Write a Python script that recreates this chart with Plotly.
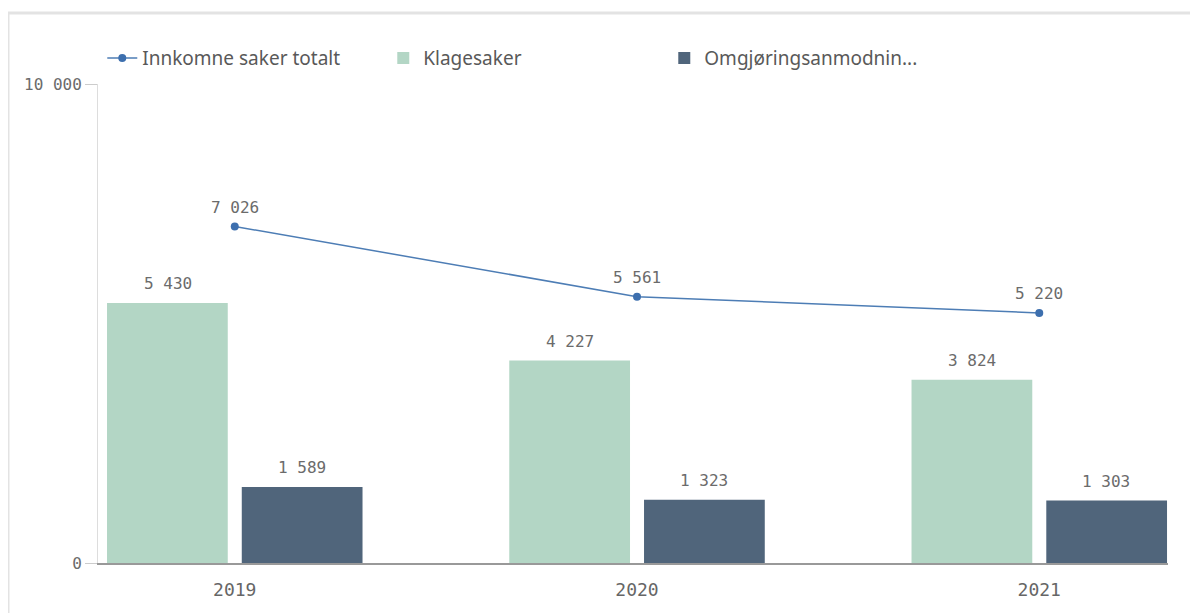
import plotly.graph_objects as go

years = ["2019", "2020", "2021"]
innkomne = [7026, 5561, 5220]
klagesaker = [5430, 4227, 3824]
omgjoring = [1589, 1323, 1303]

series_names = ["Innkomne saker totalt", "Klagesaker", "Omgjøringsanmodnin..."]

THIN = "\u2009"


def fmt(v):
    # thousands with a narrow space, like the original
    return f"{v:,}".replace(",", THIN)


mono = "DejaVu Sans Mono"
label_color = "#6b6b6b"

fig = go.Figure()

fig.add_trace(go.Scatter(
    x=years, y=innkomne, name=series_names[0],
    mode="lines+markers",
    line=dict(color="#4d7db5", width=1.5),
    marker=dict(color="#3d6fae", size=8),
))
fig.add_trace(go.Bar(
    x=years, y=klagesaker, name=series_names[1],
    marker=dict(color="#b3d6c5", line=dict(width=0)),
))
fig.add_trace(go.Bar(
    x=years, y=omgjoring, name=series_names[2],
    marker=dict(color="#50657b", line=dict(width=0)),
))

# value labels (category axis -> use index positions for annotations)
annotations = []
for i in range(len(years)):
    annotations.append(dict(x=i, y=klagesaker[i], text=fmt(klagesaker[i]), xshift=-67))
    annotations.append(dict(x=i, y=omgjoring[i], text=fmt(omgjoring[i]), xshift=67))
    annotations.append(dict(x=i, y=innkomne[i], text=fmt(innkomne[i])))
for a in annotations:
    a.update(xref="x", yref="y", yshift=19, showarrow=False, yanchor="middle",
             font=dict(family=mono, size=16, color=label_color))

fig.update_layout(
    width=1198, height=613,
    margin=dict(l=90, r=38, t=76, b=58),
    paper_bgcolor="white", plot_bgcolor="white",
    barmode="group", bargap=0.33, bargroupgap=0.104,
    annotations=annotations,
    legend=dict(
        orientation="h", x=0.004, y=1.054, xanchor="left", yanchor="middle",
        traceorder="normal", bgcolor="rgba(0,0,0,0)",
        entrywidth=236, entrywidthmode="pixels",
        font=dict(family="Noto Sans", size=19, color="#595959"),
    ),
    xaxis=dict(
        type="category", range=[-0.34, 2.32],
        showgrid=False, showline=True, linecolor="#999999", linewidth=1.5,
        ticks="", ticklabelstandoff=10,
        tickfont=dict(family=mono, size=18, color="#666666"),
    ),
    yaxis=dict(
        range=[0, 10000], tickvals=[0, 10000], ticktext=["0", fmt(10000)],
        showgrid=True, gridcolor="#dddddd", gridwidth=1,
        zeroline=False, showline=True, linecolor="#dddddd", linewidth=1,
        ticks="outside", ticklen=12, tickcolor="#cccccc",
        tickfont=dict(family=mono, size=16, color="#6b6b6b"),
    ),
    shapes=[dict(
        type="rect", xref="paper", yref="paper",
        x0=-0.0841, x1=1.03, y0=-0.12, y1=1.148,
        line=dict(color="#e3e3e3", width=3), fillcolor="rgba(0,0,0,0)",
        layer="below",
    )],
)

fig.write_html("out.html")
